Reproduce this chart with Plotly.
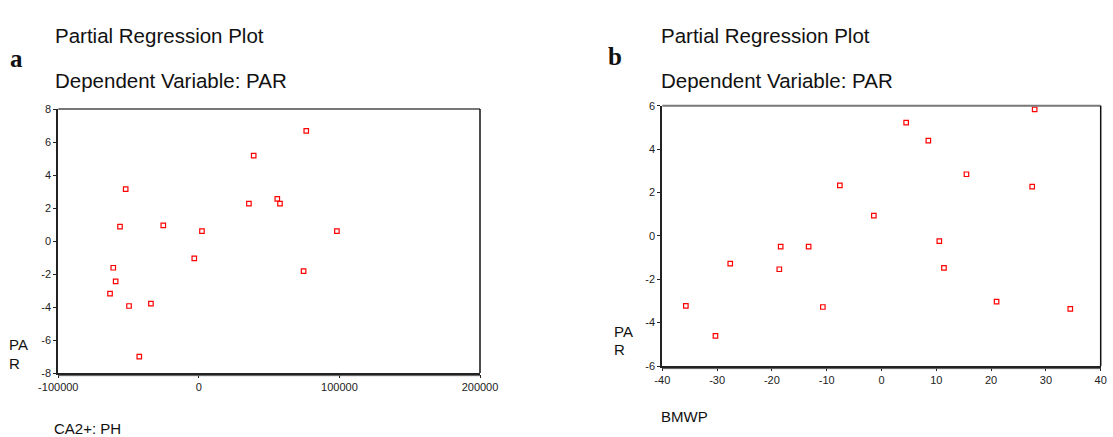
import plotly.graph_objects as go

# Panel a: CA2+: PH residuals vs PAR residuals
a_x = [-52060, -56100, -25320, 2200, -3270, -60900, -59200, -63200, -49700, -34100,
       -42400, 35600, 39000, 55800, 57700, 76400, 98200, 74500]
a_y = [3.15, 0.87, 0.95, 0.6, -1.05, -1.62, -2.45, -3.19, -3.94, -3.8,
       -7.01, 2.26, 5.17, 2.55, 2.26, 6.68, 0.6, -1.82]

# Panel b: BMWP residuals vs PAR residuals
b_x = [-35.7, -30.3, -27.6, -18.4, -18.65, -13.3, -10.7, -7.6, -1.4,
       4.5, 8.55, 15.5, 10.55, 11.4, 21.0, 27.5, 27.95, 34.45]
b_y = [-3.23, -4.61, -1.28, -0.50, -1.54, -0.50, -3.28, 2.33, 0.93,
       5.22, 4.39, 2.84, -0.24, -1.48, -3.03, 2.27, 5.83, -3.37]

a_xticks = [-100000, 0, 100000, 200000]
a_yticks = [8, 6, 4, 2, 0, -2, -4, -6, -8]
b_xticks = [-40, -30, -20, -10, 0, 10, 20, 30, 40]
b_yticks = [6, 4, 2, 0, -2, -4, -6]

W, H = 1113, 437
A_DOM_X = [58.3 / W, 480 / W]
A_DOM_Y = [1 - 373 / H, 1 - 109 / H]
B_DOM_X = [662.3 / W, 1100.7 / W]
B_DOM_Y = [1 - 366 / H, 1 - 105.7 / H]

FONT = "Liberation Sans, Arial, sans-serif"
marker = dict(symbol="square-open", size=4.5, color="#ff0000", line=dict(width=1.2, color="#ff0000"))

fig = go.Figure()
fig.add_trace(go.Scatter(x=a_x, y=a_y, mode="markers", marker=marker, xaxis="x", yaxis="y",
                         hoverinfo="skip", showlegend=False))
fig.add_trace(go.Scatter(x=b_x, y=b_y, mode="markers", marker=marker, xaxis="x2", yaxis="y2",
                         hoverinfo="skip", showlegend=False))

axcommon = dict(showgrid=False, zeroline=False, showline=True, linecolor="#222222", linewidth=2,
                ticks="outside", ticklen=3, tickcolor="#222222", tickwidth=1, automargin=False,
                tickfont=dict(family=FONT, size=11, color="#222222"), fixedrange=True)

def lab(vals):
    return [str(v) for v in vals]

fig.update_layout(
    template="none",
    width=W, height=H, margin=dict(l=0, r=0, t=0, b=0, pad=0),
    paper_bgcolor="white", plot_bgcolor="white",
    xaxis=dict(domain=A_DOM_X, range=[-100000, 200000], tickvals=a_xticks,
               ticktext=lab(a_xticks), anchor="y", **axcommon),
    yaxis=dict(domain=A_DOM_Y, range=[-8, 8], tickvals=a_yticks, ticktext=lab(a_yticks),
               anchor="x", **axcommon),
    xaxis2=dict(domain=B_DOM_X, range=[-40, 40], tickvals=b_xticks, ticktext=lab(b_xticks),
                anchor="y2", **axcommon),
    yaxis2=dict(domain=B_DOM_Y, range=[-6, 6], tickvals=b_yticks, ticktext=lab(b_yticks),
                anchor="x2", **axcommon),
)

shapes = []
for xr, yr in (("x", "y"), ("x2", "y2")):
    # top border (gray) and right border (black)
    shapes.append(dict(type="line", xref=f"{xr} domain", yref=f"{yr} domain", x0=0, x1=1, y0=1, y1=1,
                       line=dict(color="#777777", width=2)))
    shapes.append(dict(type="line", xref=f"{xr} domain", yref=f"{yr} domain", x0=1, x1=1, y0=0, y1=1,
                       line=dict(color="#111111", width=1.5)))
    # second bottom line
    shapes.append(dict(type="line", xref=f"{xr} domain", yref=f"{yr} domain", x0=0, x1=1, y0=-0.01, y1=-0.01,
                       line=dict(color="#555555", width=1)))
fig.update_layout(shapes=shapes)

ann = []
def txt(x, y, s, size, **kw):
    d = dict(x=x / W, y=1 - y / H, xref="paper", yref="paper", text=s, showarrow=False,
             xanchor=kw.pop("xanchor", "left"), yanchor="middle",
             font=dict(family=kw.pop("family", FONT), size=size, color="#111111"))
    d.update(kw)
    ann.append(d)

# Panel a texts
txt(53, 36, "Partial Regression Plot", 20.5)
txt(53, 81, "Dependent Variable: PAR", 20.5)
txt(8, 58, "<b>a</b>", 25, family="Liberation Serif, Times New Roman, serif")
txt(7, 344, "PA", 15)
txt(7, 363, "R", 15)
txt(52, 428, "CA2+: PH", 15)

# Panel b texts
txt(659, 36, "Partial Regression Plot", 20.5)
txt(659, 81, "Dependent Variable: PAR", 20.5)
txt(606, 56, "<b>b</b>", 25, family="Liberation Serif, Times New Roman, serif")
txt(612, 331, "PA", 15)
txt(612, 349, "R", 15)
txt(659, 416, "BMWP", 15)

fig.update_layout(annotations=ann)
fig.write_html("out.html", config={"displayModeBar": False},
               post_script="document.body.style.margin='0';document.body.style.padding='0';"
                           "document.body.style.overflow='hidden';")
